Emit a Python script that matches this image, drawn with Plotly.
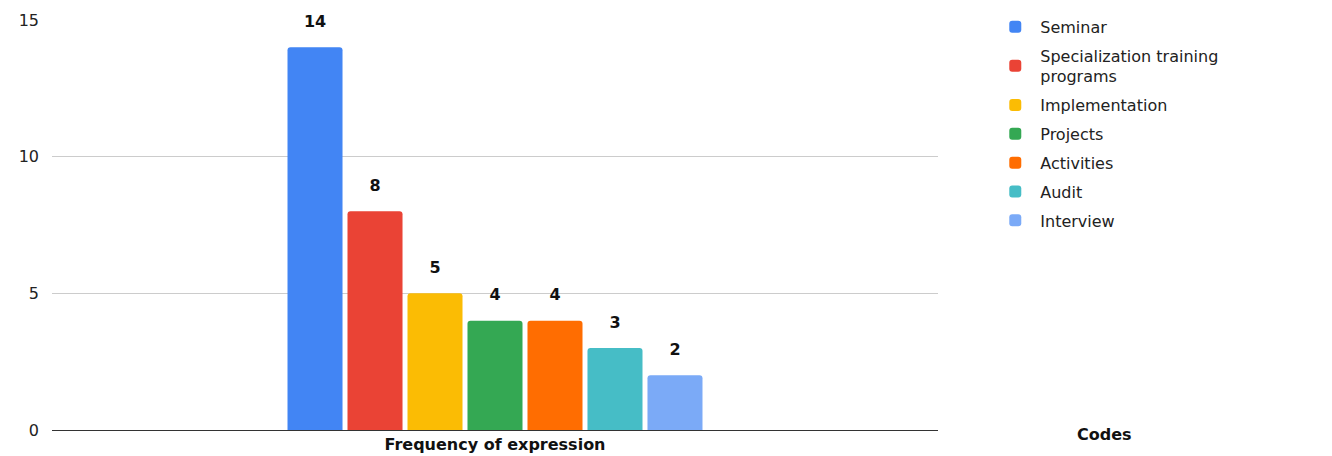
import plotly.graph_objects as go

category = ["Frequency of expression"]
codes = ["Seminar", "Specialization training<br>programs", "Implementation",
         "Projects", "Activities", "Audit", "Interview"]
values = [14, 8, 5, 4, 4, 3, 2]
colors = ["#4285F4", "#EA4335", "#FBBC04", "#34A853", "#FF6D01", "#46BDC6", "#7BAAF7"]
y_ticks = [0, 5, 10, 15]

FONT = "DejaVu Sans"

fig = go.Figure()
for i, (name, v, c) in enumerate(zip(codes, values, colors)):
    fig.add_trace(go.Bar(
        x=category, y=[v], name=name, legendgroup=f"g{i}",
        marker=dict(color=c, line=dict(width=0)),
        text=[v],
        texttemplate="<span style='font-size:16px'><b>%{y}</b></span><br> ",
        textposition="outside", cliponaxis=False,
        textfont=dict(family=FONT, size=11, color="#111111"),
    ))

fig.update_layout(
    width=1332, height=456,
    margin=dict(l=52, r=394, t=20, b=26, autoexpand=False),
    paper_bgcolor="white", plot_bgcolor="white",
    barmode="group", bargap=0.526, bargroupgap=0.083,
    barcornerradius=3,
    font=dict(family=FONT, size=16, color="#222222"),
    showlegend=True,
    legend=dict(x=1.059, y=1.025, xanchor="left", yanchor="top",
                font=dict(family=FONT, size=16, color="#222222"),
                itemwidth=40, tracegroupgap=5, bgcolor="rgba(0,0,0,0)"),
    annotations=[dict(text="<b>Codes</b>", xref="paper", yref="paper",
                      x=1.188, y=-0.012, xanchor="center", yanchor="middle",
                      showarrow=False, font=dict(family=FONT, size=16, color="#111111"))],
)
fig.update_yaxes(range=[0, 15], tickvals=y_ticks, showgrid=True, gridcolor="#cccccc",
                 gridwidth=1, zeroline=True, zerolinecolor="#333333", zerolinewidth=1,
                 showline=False, ticks="", ticklabelstandoff=12, automargin=False,
                 tickfont=dict(family=FONT, size=16, color="#222222"))
fig.update_xaxes(showline=True, linecolor="#333333", linewidth=1, ticks="", automargin=False,
                 tickfont=dict(family=FONT, size=16, color="#111111"),
                 tickvals=category, ticktext=["<b>" + c + "</b>" for c in category])

fig.write_html("out.html")
